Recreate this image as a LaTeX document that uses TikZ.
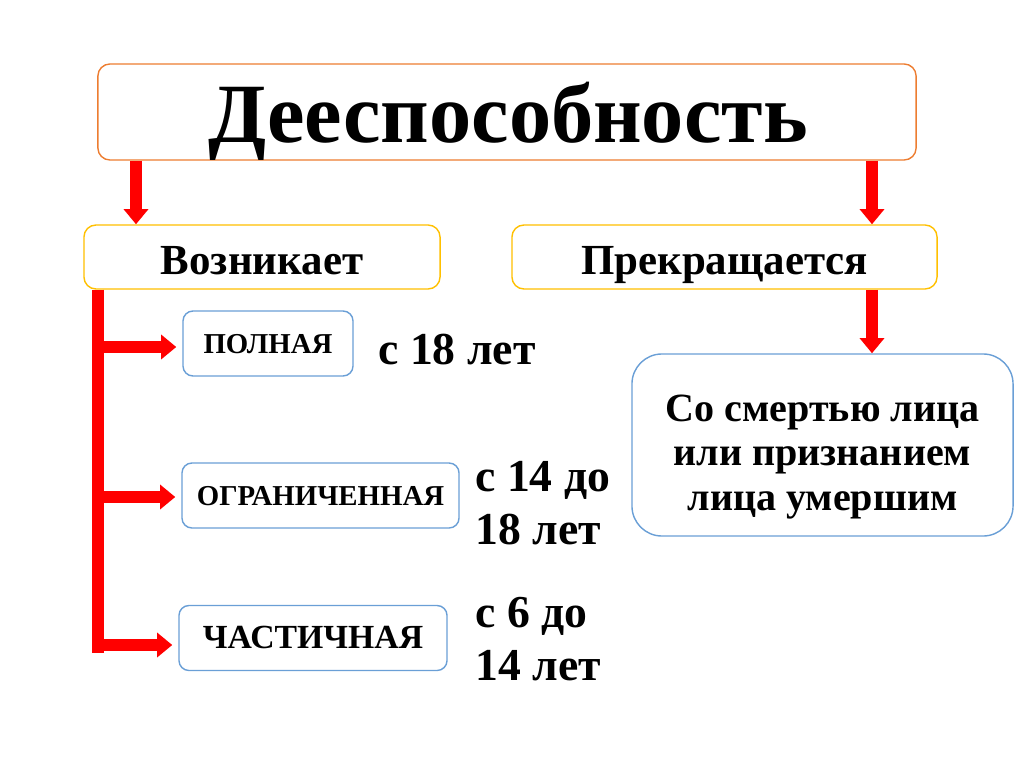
\documentclass[tikz,border=0pt]{standalone}
\usepackage{fontspec}
\setmainfont{Liberation Serif}
\usepackage{tikz}
\usetikzlibrary{arrows.meta, positioning, calc}
\usepackage{xcolor}
\definecolor{boxorange}{HTML}{ED7D31}
\definecolor{boxyellow}{HTML}{FFC000}
\definecolor{boxblue}{HTML}{6A9FD6}
\definecolor{arrowred}{HTML}{FF0000}

\begin{document}
\begin{tikzpicture}[x=0.025cm, y=-0.025cm,
    box/.style={draw, line width=1pt, rounded corners=0.3cm, fill=white, inner sep=0pt, font=\bfseries},
    head/.style={box, draw=boxyellow, minimum height=1.6cm, text height=0.85cm, text depth=0cm, font=\fontsize{30.5}{36}\selectfont\bfseries},
    kind/.style={box, draw=boxblue, minimum height=1.625cm, rounded corners=0.25cm, text height=0.5cm, text depth=0cm, font=\fontsize{20.5}{24}\selectfont\bfseries},
    age/.style={anchor=west, inner sep=0pt, align=left, font=\fontsize{32.5}{37.7}\selectfont\bfseries},
    redarrow/.style={arrowred, line width=8.5pt, -{Triangle[length=0.38cm, width=0.6cm]}},
    redbar/.style={arrowred, line width=9pt}]
  \useasboundingbox (0,0) rectangle (1024,767);
  \node[box, draw=boxorange, minimum width=20.45cm, minimum height=2.4cm] (title) at (507,112) {};
  \node[anchor=base, inner sep=0pt, font=\fontsize{60}{70}\selectfont\bfseries] at (508,143) {Дееспособность};
  \node[head, minimum width=8.9cm] (vozn) at (262,257) {Возникает};
  \node[head, minimum width=10.625cm] (prekr) at (724.5,257) {Прекращается};
  \node[box, draw=boxblue, minimum width=9.525cm, minimum height=4.55cm, rounded corners=0.75cm,
    label={[align=center, yshift=-0.3cm, font=\fontsize{28.5}{31.5}\selectfont\bfseries]center:Со смертью лица\\или признанием\\лица умершим}] (death) at (822.5,445) {};
  \node[kind, minimum width=4.25cm] (full) at (268,343.5) {ПОЛНАЯ};
  \node[kind, minimum width=6.925cm] (limited) at (320.5,495.5) {ОГРАНИЧЕННАЯ};
  \node[kind, minimum width=6.7cm, font=\fontsize{24}{28}\selectfont\bfseries] (partial) at (313,638) {ЧАСТИЧНАЯ};
  \node[age] (fullage) at (378,350) {с 18 лет};
  \node[age] (limage) at (475,503) {с 14 до\\18 лет};
  \node[age] (partage) at (475,639) {с 6 до\\14 лет};
  \coordinate (lx) at (136,0);
  \coordinate (rx) at (872,0);
  \coordinate (bx) at (98,0);
  \coordinate (bend) at (98,653);
  \draw[redarrow] (title.south -| lx) -- (vozn.north -| lx);
  \draw[redarrow] (title.south -| rx) -- (prekr.north -| rx);
  \draw[redarrow] (prekr.south -| rx) -- (death.north -| rx);
  \draw[redbar] (vozn.south -| bx) -- (bend);
  \foreach \k/\s in {full/3.5, limited/1.5, partial/7}
    \draw[redarrow] ($(bx |- \k.west)+(0,\s)$) -- ($(\k.west)+(-6,\s)$);
\end{tikzpicture}
\end{document}
